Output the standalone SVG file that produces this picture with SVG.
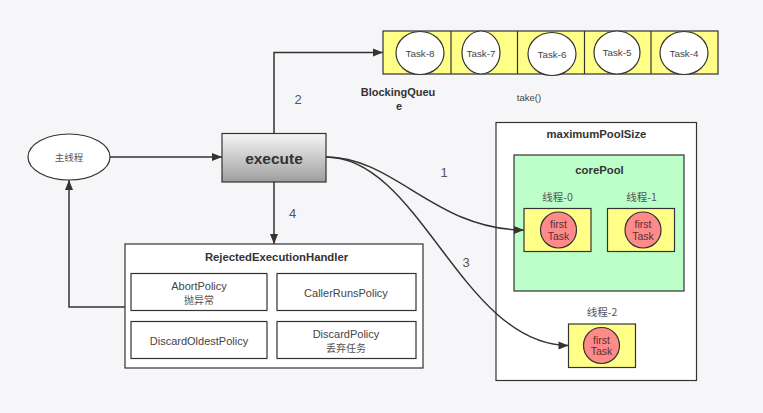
<svg xmlns="http://www.w3.org/2000/svg" width="763" height="413" viewBox="0 0 763 413">
<defs>
<style>
.t{font-family:"Liberation Sans","Noto Sans CJK SC",sans-serif;fill:#444;text-anchor:middle}
.b{font-weight:bold;fill:#333}
.cj{font-family:"Noto Sans CJK SC","Liberation Sans",sans-serif;fill:#555;text-anchor:middle}
.box{fill:#fff;stroke:#333;stroke-width:1.2}
.yel{fill:#ffff88;stroke:#333;stroke-width:1.2}
.red{fill:#ff8a8a;stroke:#333;stroke-width:1.2}
.task{fill:#fff;stroke:#333;stroke-width:1.2}
.ft{font-family:"Liberation Sans",sans-serif;fill:#5a3030;text-anchor:middle;font-size:10.5px}
.ln{fill:none;stroke:#333;stroke-width:1.5}
.lbl{font-family:"Liberation Sans",sans-serif;font-size:13px;fill:#555;text-anchor:middle}
</style>
<linearGradient id="g" x1="0" y1="0" x2="0" y2="1">
<stop offset="0" stop-color="#f6f6f6"/>
<stop offset="1" stop-color="#9e9e9e"/>
</linearGradient>
<marker id="ar" viewBox="0 0 10 10" refX="10" refY="5" markerWidth="10" markerHeight="10" markerUnits="userSpaceOnUse" orient="auto">
<path d="M0,1 L10,5 L0,9 Z" fill="#333"/>
</marker>
</defs>
<rect width="763" height="413" fill="#f6f5f8"/>

<g id="queue">
<rect x="383" y="31" width="335" height="43" class="yel"/>
<line x1="451" y1="31" x2="451" y2="74" stroke="#333" stroke-width="1.2"/>
<line x1="517.5" y1="31" x2="517.5" y2="74" stroke="#333" stroke-width="1.2"/>
<line x1="584.5" y1="31" x2="584.5" y2="74" stroke="#333" stroke-width="1.2"/>
<line x1="651" y1="31" x2="651" y2="74" stroke="#333" stroke-width="1.2"/>
<ellipse cx="420" cy="53" rx="24" ry="21.5" class="task"/>
<ellipse cx="481" cy="52.5" rx="19" ry="21.5" class="task"/>
<ellipse cx="552" cy="54" rx="24" ry="21.5" class="task"/>
<ellipse cx="617" cy="52.5" rx="23" ry="21.5" class="task"/>
<ellipse cx="684" cy="53" rx="24" ry="21.5" class="task"/>
<text x="420" y="56.5" class="t" font-size="9.8">Task-8</text>
<text x="481" y="56.5" class="t" font-size="9.8">Task-7</text>
<text x="552" y="57.5" class="t" font-size="9.8">Task-6</text>
<text x="617" y="56" class="t" font-size="9.8">Task-5</text>
<text x="684" y="56.5" class="t" font-size="9.8">Task-4</text>
<text x="398" y="96" class="t b" font-size="11">BlockingQueu</text>
<text x="399" y="110" class="t b" font-size="11">e</text>
<text x="529" y="101" class="t" font-size="9.5" fill="#555">take()</text>
</g>

<g id="main">
<ellipse cx="69" cy="157" rx="41" ry="23" class="box"/>
<text x="69" y="161" class="cj" font-size="9.5">主线程</text>
</g>

<g id="execute">
<rect x="222" y="133.5" width="104" height="48.5" fill="url(#g)" stroke="#333" stroke-width="1.2"/>
<text x="274" y="163.5" class="t b" font-size="15.5">execute</text>
</g>

<g id="handler">
<rect x="125" y="244" width="298" height="124" class="box"/>
<text x="276.5" y="261" class="t b" font-size="11.3">RejectedExecutionHandler</text>
<rect x="131" y="273.5" width="136" height="37" class="box"/>
<rect x="277" y="273.5" width="139" height="37" class="box"/>
<rect x="131" y="321.5" width="136" height="37" class="box"/>
<rect x="277" y="321.5" width="139" height="37" class="box"/>
<text x="199" y="290" class="t" font-size="11">AbortPolicy</text>
<text x="199" y="304" class="cj" font-size="10" fill="#444">抛异常</text>
<text x="346" y="297" class="t" font-size="11">CallerRunsPolicy</text>
<text x="199" y="344.5" class="t" font-size="11">DiscardOldestPolicy</text>
<text x="346" y="337.5" class="t" font-size="11">DiscardPolicy</text>
<text x="346" y="352" class="cj" font-size="10" fill="#444">丢弃任务</text>
</g>

<g id="maxPool">
<rect x="496" y="122.5" width="200.5" height="258" class="box" stroke="#444"/>
<text x="596.5" y="138" class="t b" font-size="11.3">maximumPoolSize</text>
</g>

<g id="corePool">
<rect x="514" y="155" width="170" height="136" fill="#bcffc8" stroke="#333" stroke-width="1.2"/>
<text x="599.5" y="174" class="t b" font-size="11.3">corePool</text>
</g>

<g id="thread0">
<text x="557.5" y="201" class="cj" font-size="10.5">线程-0</text>
<rect x="524" y="208.5" width="67" height="43" class="yel"/>
<circle cx="558.5" cy="230" r="18" class="red"/>
<text x="558.5" y="228" class="ft">first</text>
<text x="558.5" y="239.5" class="ft">Task</text>
</g>

<g id="thread1">
<text x="641.5" y="201" class="cj" font-size="10.5">线程-1</text>
<rect x="607.5" y="208.5" width="67" height="43" class="yel"/>
<circle cx="643" cy="230" r="18" class="red"/>
<text x="643" y="228" class="ft">first</text>
<text x="643" y="239.5" class="ft">Task</text>
</g>

<g id="thread2">
<text x="602" y="316" class="cj" font-size="10.5">线程-2</text>
<rect x="568.5" y="324" width="67" height="43.5" class="yel"/>
<circle cx="601.5" cy="345.5" r="18" class="red"/>
<text x="601.5" y="343.5" class="ft">first</text>
<text x="601.5" y="355" class="ft">Task</text>
</g>

<g id="connectors">
<path d="M274,133.5 V52.5 H383" class="ln" marker-end="url(#ar)"/>
<path d="M110,157 H222" class="ln" marker-end="url(#ar)"/>
<path d="M274,182 V244" class="ln" marker-end="url(#ar)"/>
<path d="M125,307 H69 V180" class="ln" marker-end="url(#ar)"/>
<path d="M326,157 C395,157 435,230 524,230" class="ln" marker-end="url(#ar)"/>
<path d="M326,157 C420,157 462,345 568.5,345.5" class="ln" marker-end="url(#ar)"/>
<text x="298" y="104" class="lbl">2</text>
<text x="292.5" y="218" class="lbl">4</text>
<text x="444" y="177" class="lbl">1</text>
<text x="466" y="267" class="lbl">3</text>
</g>
</svg>
